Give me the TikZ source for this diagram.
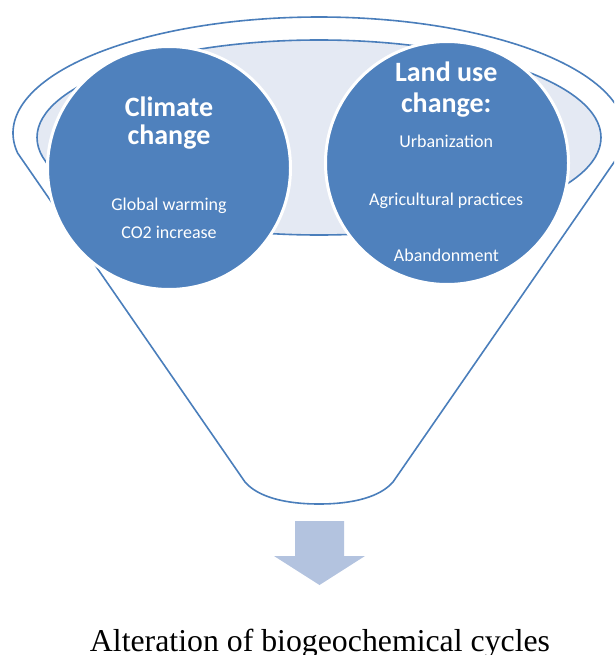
\documentclass[tikz,border=0pt]{standalone}
\usepackage{fontspec}
\setmainfont{Liberation Serif}
\newfontfamily\carlito{Carlito}
\definecolor{lineblue}{HTML}{4A7EBB}
\definecolor{circblue}{HTML}{4F81BD}
\definecolor{innerfill}{HTML}{E4E9F3}
\definecolor{arrowblue}{HTML}{B3C3DF}
\begin{document}
\begin{tikzpicture}[x=1pt,y=-1pt,
  funnelline/.style={draw=lineblue, line width=1.6pt, line join=round},
  topic/.style={circle, fill=circblue, draw=white, line width=3pt, minimum size=243pt, inner sep=0pt},
  title/.style={text=white, font=\carlito\bfseries\fontsize{28}{32}\selectfont, anchor=base, inner sep=0pt},
  item/.style={text=white, font=\carlito\fontsize{18}{21}\selectfont, anchor=base, inner sep=0pt},
  caption/.style={font=\fontsize{31.8}{36}\selectfont, anchor=base, inner sep=0pt}]
\useasboundingbox (0,0) rectangle (614,655);
\clip (0,0) rectangle (614,655);
% funnel body with rim
\draw[funnelline, fill=white]
  plot[domain=170.07:369.93, samples=150] ({319+306*cos(\x)},{133+116*sin(\x)})
  -- (393,482) .. controls (380,497) and (353,504) .. (319,504)
  .. controls (285,504) and (258,497) .. (245,482) -- cycle;
% inner opening
\draw[funnelline, fill=innerfill] (319,137.5) ellipse [x radius=282pt, y radius=97.5pt];
% circles
\node[topic] (climate) at (169,168) {};
\node[topic] (landuse) at (447,163) {};
% left circle texts
\node[title] (climateA) at (169,116.7) {Climate};
\node[title] (climateB) at (169,145) {change};
\node[item] (warming) at (169,210) {Global warming};
\node[item] (coinc) at (169,238.3) {CO2 increase};
% right circle texts
\node[title] (landA) at (446.2,81.7) {Land use};
\node[title] (landB) at (446.2,112.7) {change:};
\node[item] (urban) at (446.2,148) {Urbanization};
\node[item] (agri) at (446.2,205) {Agricultural practices};
\node[item] (aband) at (446.4,261.7) {Abandonment};
% arrow
\fill[arrowblue] (295,521) -- (344,521) -- (344,556) -- (365,556) -- (319.5,585)
  -- (274,556) -- (295,556) -- cycle;
% caption
\node[caption] (cap) at (320,651) {Alteration of biogeochemical cycles};
\end{tikzpicture}
\end{document}
